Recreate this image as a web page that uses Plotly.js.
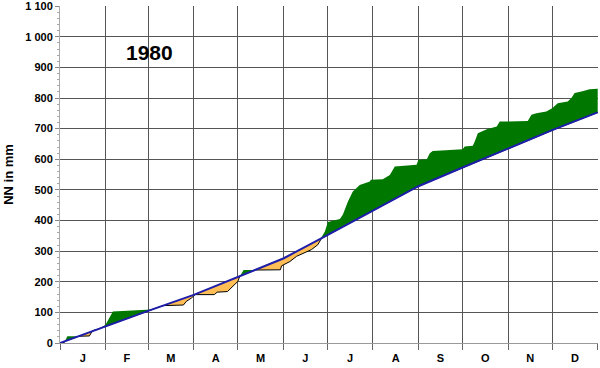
<!DOCTYPE html>
<html>
<head>
<meta charset="utf-8">
<script src="https://cdn.plot.ly/plotly-3.0.1.min.js"></script>
<style>
  html, body { margin: 0; padding: 0; background: #fff; }
  #chart { width: 600px; height: 368px; }
</style>
</head>
<body>
<div id="chart"></div>
<script>
// Month labels and month boundaries (day of year, 1980 leap year)
const monthLabels = ['J','F','M','A','M','J','J','A','S','O','N','D'];
const monthBounds = [0,31,60,91,121,152,182,213,244,274,305,335,366];

// Long-term mean cumulative precipitation (blue line)
const avgDays = [0, 31, 60, 91, 121, 152, 182, 213, 244, 274, 305, 335, 366];
const avgVals = [0, 55, 105, 157, 216, 276, 352, 433, 512, 573, 635, 695, 753];

// 1980 cumulative precipitation
const actDays = [0, 3, 5, 12, 20, 22, 26, 30, 31, 36, 58, 62, 66, 70, 84, 86, 89.5, 92,
  105, 107, 114, 117.7, 121, 122.4, 125, 150, 150.8, 156.5, 161, 166.7, 171.2, 175.5, 178,
  180.3, 182.3, 190.5, 192.5, 196, 199.3, 204, 210.9, 211.6, 219.7, 224.5, 227.9, 242.7, 243.5,
  249.7, 251.7, 253.7, 274, 275.5, 281, 282.3, 284.4, 290.5, 297.3, 299.3, 318.4, 320.9, 324.3,
  331, 334.5, 338.8, 345.6, 348.1, 350.3, 354.9, 360.5, 366];
const actVals = [0, 2, 22, 22, 23, 42, 44, 56, 60, 103, 107, 109, 117, 122, 124, 136, 147, 158,
  158, 166, 168, 185, 201, 218, 238, 239, 252, 266, 283, 294, 305, 321, 345,
  364, 395, 405, 419, 462, 495, 516, 527, 533, 535, 549, 576, 582, 598,
  600, 620, 627, 633, 642, 644, 658, 685, 698, 707, 723, 725, 745, 750,
  756, 764, 783, 789, 800, 816, 821, 829, 830];

// Y tick labels
const yTickVals = [0,100,200,300,400,500,600,700,800,900,1000,1100];
const yTickText = ['0','100','200','300','400','500','600','700','800','900','1 000','1 100'];

function interp(xs, ys, x) {
  if (x <= xs[0]) return ys[0];
  for (let i = 1; i < xs.length; i++) {
    if (x <= xs[i]) {
      const t = (x - xs[i-1]) / (xs[i] - xs[i-1]);
      return ys[i-1] + t * (ys[i] - ys[i-1]);
    }
  }
  return ys[ys.length-1];
}

// Common grid for the envelope fills (union of both series' x positions + crossings)
let grid = Array.from(new Set(avgDays.concat(actDays))).sort((a,b)=>a-b);
let g2 = [];
for (let i = 0; i < grid.length; i++) {
  if (i > 0) {
    const x0 = grid[i-1], x1 = grid[i];
    const d0 = interp(actDays, actVals, x0) - interp(avgDays, avgVals, x0);
    const d1 = interp(actDays, actVals, x1) - interp(avgDays, avgVals, x1);
    if (d0 * d1 < 0) {
      g2.push(x0 + (x1 - x0) * d0 / (d0 - d1));
    }
  }
  g2.push(grid[i]);
}
grid = g2;
const gAvg = grid.map(x => interp(avgDays, avgVals, x));
const gAct = grid.map(x => interp(actDays, actVals, x));
const gUpper = grid.map((x,i) => Math.max(gAvg[i], gAct[i]));
const gLower = grid.map((x,i) => Math.min(gAvg[i], gAct[i]));

const monthMids = monthLabels.map((m,i) => (monthBounds[i] + monthBounds[i+1]) / 2);

const GREEN = '#007800';
const ORANGE = '#FFBE55';
const BLUE = '#1e1eaa';

const traces = [
  {x: grid, y: gAvg, mode: 'lines', line: {width: 0}, hoverinfo: 'skip', showlegend: false},
  {x: grid, y: gUpper, mode: 'lines', line: {width: 0}, fill: 'tonexty', fillcolor: GREEN, hoverinfo: 'skip', showlegend: false},
  {x: grid, y: gLower, mode: 'lines', line: {width: 0}, hoverinfo: 'skip', showlegend: false},
  {x: grid, y: gAvg, mode: 'lines', line: {width: 0}, fill: 'tonexty', fillcolor: ORANGE, hoverinfo: 'skip', showlegend: false},
  {x: grid, y: gLower, mode: 'lines', line: {width: 1, color: '#000'}, hoverinfo: 'skip', showlegend: false},
  {x: avgDays, y: avgVals, mode: 'lines', line: {width: 2, color: BLUE}, hoverinfo: 'skip', showlegend: false}
];

const FONT = 'Liberation Sans, Arial, sans-serif';

const layout = {
  width: 600, height: 368,
  margin: {l: 60, r: 2, t: 6, b: 25},
  paper_bgcolor: '#fff', plot_bgcolor: '#fff',
  showlegend: false,
  font: {family: FONT, color: '#000'},
  xaxis: {
    range: [0, 366.2],
    tickmode: 'array', tickvals: monthMids, ticktext: monthLabels,
    ticks: 'outside', ticklen: 5, tickcolor: 'rgba(0,0,0,0)',
    showgrid: false, zeroline: false,
    showline: true, linecolor: '#999', linewidth: 1,
    tickfont: {family: FONT, size: 11, color: '#000', weight: 'bold'},
    minor: {tickmode: 'array', tickvals: monthBounds, ticks: 'outside', ticklen: 6, tickcolor: '#666',
            showgrid: true, gridcolor: '#555', gridwidth: 1}
  },
  yaxis: {
    range: [0, 1100.5],
    tickmode: 'array', tickvals: yTickVals, ticktext: yTickText,
    ticks: 'outside', ticklen: 4, tickcolor: '#888',
    showgrid: true, gridcolor: '#555', gridwidth: 1,
    zeroline: false, showline: true, linecolor: '#aaa', linewidth: 1,
    tickfont: {family: FONT, size: 11, color: '#000', weight: 'bold'},
    minor: {dtick: 20, ticks: 'outside', ticklen: 2, tickcolor: '#aaa', showgrid: false},
    title: {text: 'NN in mm', font: {family: FONT, size: 13, color: '#000', weight: 'bold'}, standoff: 8}
  },
  annotations: [
    {x: 61, y: 950, xref: 'x', yref: 'y', text: '1980', showarrow: false,
     font: {family: FONT, size: 21, color: '#000', weight: 'bold'}}
  ]
};

Plotly.newPlot('chart', traces, layout, {staticPlot: true, displayModeBar: false});
</script>
</body>
</html>
